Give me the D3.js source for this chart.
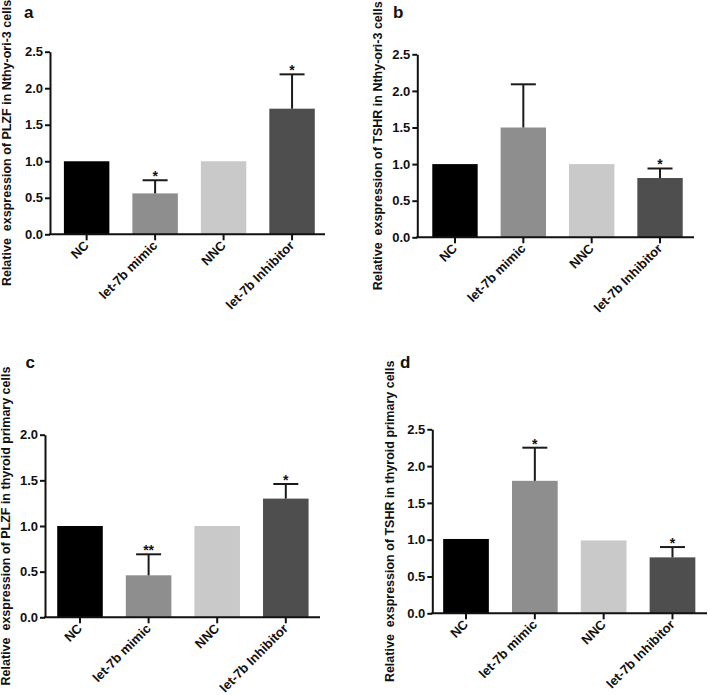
<!DOCTYPE html>
<html>
<head>
<meta charset="utf-8">
<script src="https://cdn.jsdelivr.net/npm/d3@7/dist/d3.min.js"></script>
<style>
  html, body { margin: 0; padding: 0; background: #fff; }
  svg { display: block; }
  text { font-family: "Liberation Sans", Arial, sans-serif; font-weight: bold; fill: #111; }
</style>
</head>
<body>
<svg id="chart" width="708" height="695"></svg>
<script>
// ---- data ----
const categories = ["NC", "let-7b mimic", "NNC", "let-7b Inhibitor"];
const colors = ["#000000", "#8e8e8e", "#c9c9c9", "#4e4e4e"];

const panelLabels = ["a", "b", "c", "d"];
const yTitles = [
  "Relative  exspression of PLZF in Nthy-ori-3 cells",
  "Relative  exspression of TSHR in Nthy-ori-3 cells",
  "Relative  exspression of PLZF in thyroid primary cells",
  "Relative  exspression of TSHR in thyroid primary cells"
];

// bar means
const valuesA = [1.0, 0.56, 1.0, 1.72];
const valuesB = [1.0, 1.50, 1.0, 0.81];
const valuesC = [1.0, 0.46, 1.0, 1.30];
const valuesD = [1.01, 1.80, 0.99, 0.76];

// error bar upper ends (null = none)
const errorsA = [null, 0.74, null, 2.19];
const errorsB = [null, 2.09, null, 0.94];
const errorsC = [null, 0.69, null, 1.46];
const errorsD = [null, 2.25, null, 0.90];

// significance marks
const starsA = ["", "*", "", "*"];
const starsB = ["", "", "", "*"];
const starsC = ["", "**", "", "*"];
const starsD = ["", "*", "", "*"];

const yTicksAB = [0, 0.5, 1.0, 1.5, 2.0, 2.5];
const yTicksC = [0, 0.5, 1.0, 1.5, 2.0];
const yTicksD = [0, 0.5, 1.0, 1.5, 2.0, 2.5];

// ---- layout (positions/sizes) ----
const panels = [
  { values: valuesA, errors: errorsA, stars: starsA, ticks: yTicksAB, ymax: 2.5,
    axisX: 50, y0: 234.3, yTop: 51.7, band: [52.4, 326.3], xEnd: 325,
    titleX: 10.5, labelPos: [24, 18] },
  { values: valuesB, errors: errorsB, stars: starsB, ticks: yTicksAB, ymax: 2.5,
    axisX: 417.3, y0: 237.3, yTop: 54.3, band: [420.8, 694.2], xEnd: 694,
    titleX: 381.5, labelPos: [393, 18] },
  { values: valuesC, errors: errorsC, stars: starsC, ticks: yTicksC, ymax: 2.0,
    axisX: 45, y0: 617.3, yTop: 434.7, band: [45.7, 320.1], xEnd: 320,
    titleX: 9.5, labelPos: [25.5, 368] },
  { values: valuesD, errors: errorsD, stars: starsD, ticks: yTicksD, ymax: 2.5,
    axisX: 432.3, y0: 613.3, yTop: 429.3, band: [431.6, 706.9], xEnd: 707,
    titleX: 393.5, labelPos: [400, 368] }
];

const svg = d3.select("#chart");

panels.forEach((p, i) => {
  const g = svg.append("g");
  const x = d3.scaleBand().domain(categories).range(p.band)
    .paddingInner(0.336).paddingOuter(0.168);
  const y = d3.scaleLinear().domain([0, p.ymax]).range([p.y0, p.yTop]);

  // bars
  g.selectAll("rect.bar").data(categories).join("rect")
    .attr("class", "bar")
    .attr("x", d => x(d))
    .attr("width", x.bandwidth())
    .attr("y", (d, j) => y(p.values[j]))
    .attr("height", (d, j) => y(0) - y(p.values[j]))
    .attr("fill", (d, j) => colors[j]);

  // error bars
  const errData = categories.map((c, j) => ({ c, v: p.values[j], e: p.errors[j], s: p.stars[j] }));
  const eg = g.selectAll("g.err").data(errData.filter(d => d.e !== null)).join("g").attr("class", "err");
  eg.append("line")
    .attr("x1", d => x(d.c) + x.bandwidth() / 2)
    .attr("x2", d => x(d.c) + x.bandwidth() / 2)
    .attr("y1", d => y(d.v))
    .attr("y2", d => y(d.e))
    .attr("stroke", "#1a1a1a").attr("stroke-width", 2);
  eg.append("line")
    .attr("x1", d => x(d.c) + x.bandwidth() / 2 - 12.5)
    .attr("x2", d => x(d.c) + x.bandwidth() / 2 + 12.5)
    .attr("y1", d => y(d.e))
    .attr("y2", d => y(d.e))
    .attr("stroke", "#1a1a1a").attr("stroke-width", 2);

  // stars
  g.selectAll("text.star").data(errData.filter(d => d.s)).join("text")
    .attr("class", "star")
    .attr("x", d => x(d.c) + x.bandwidth() / 2)
    .attr("y", d => y(d.e !== null ? d.e : d.v) + 1)
    .attr("text-anchor", "middle")
    .style("font-size", "14px")
    .text(d => d.s);

  // y axis
  const yAxis = d3.axisLeft(y).tickValues(p.ticks).tickFormat(d3.format(".1f"))
    .tickSize(5).tickSizeOuter(0).tickPadding(2);
  const ya = g.append("g").attr("transform", `translate(${p.axisX},0)`).call(yAxis);
  ya.select(".domain").attr("stroke", "#111").attr("stroke-width", 2);
  ya.selectAll(".tick line").attr("stroke", "#111").attr("stroke-width", 2);
  ya.selectAll(".tick text").style("font-size", "13px").attr("fill", "#111")
    .style("font-family", "'Liberation Sans', Arial, sans-serif").style("font-weight", "bold");

  // x axis
  const xAxis = d3.axisBottom(x).tickSize(6).tickSizeOuter(0);
  const xa = g.append("g").attr("transform", `translate(0,${p.y0})`).call(xAxis);
  xa.select(".domain").remove();
  xa.selectAll(".tick line").attr("stroke", "#111").attr("stroke-width", 2);
  xa.selectAll(".tick text")
    .style("font-size", "13px").attr("fill", "#111")
    .style("font-family", "'Liberation Sans', Arial, sans-serif").style("font-weight", "bold")
    .attr("text-anchor", "end")
    .attr("dy", null)
    .attr("y", 0)
    .attr("transform", "translate(3,12) rotate(-45)");
  g.append("line")
    .attr("x1", p.axisX - 1).attr("x2", p.xEnd)
    .attr("y1", p.y0).attr("y2", p.y0)
    .attr("stroke", "#111").attr("stroke-width", 2);

  // y title
  g.append("text")
    .attr("transform", `translate(${p.titleX},${(p.y0 + p.yTop) / 2}) rotate(-90)`)
    .attr("text-anchor", "middle")
    .attr("xml:space", "preserve")
    .style("white-space", "pre")
    .style("font-size", "12.5px")
    .text(yTitles[i]);

  // panel label
  g.append("text")
    .attr("x", p.labelPos[0]).attr("y", p.labelPos[1])
    .style("font-size", "17px")
    .text(panelLabels[i]);
});
</script>
</body>
</html>
